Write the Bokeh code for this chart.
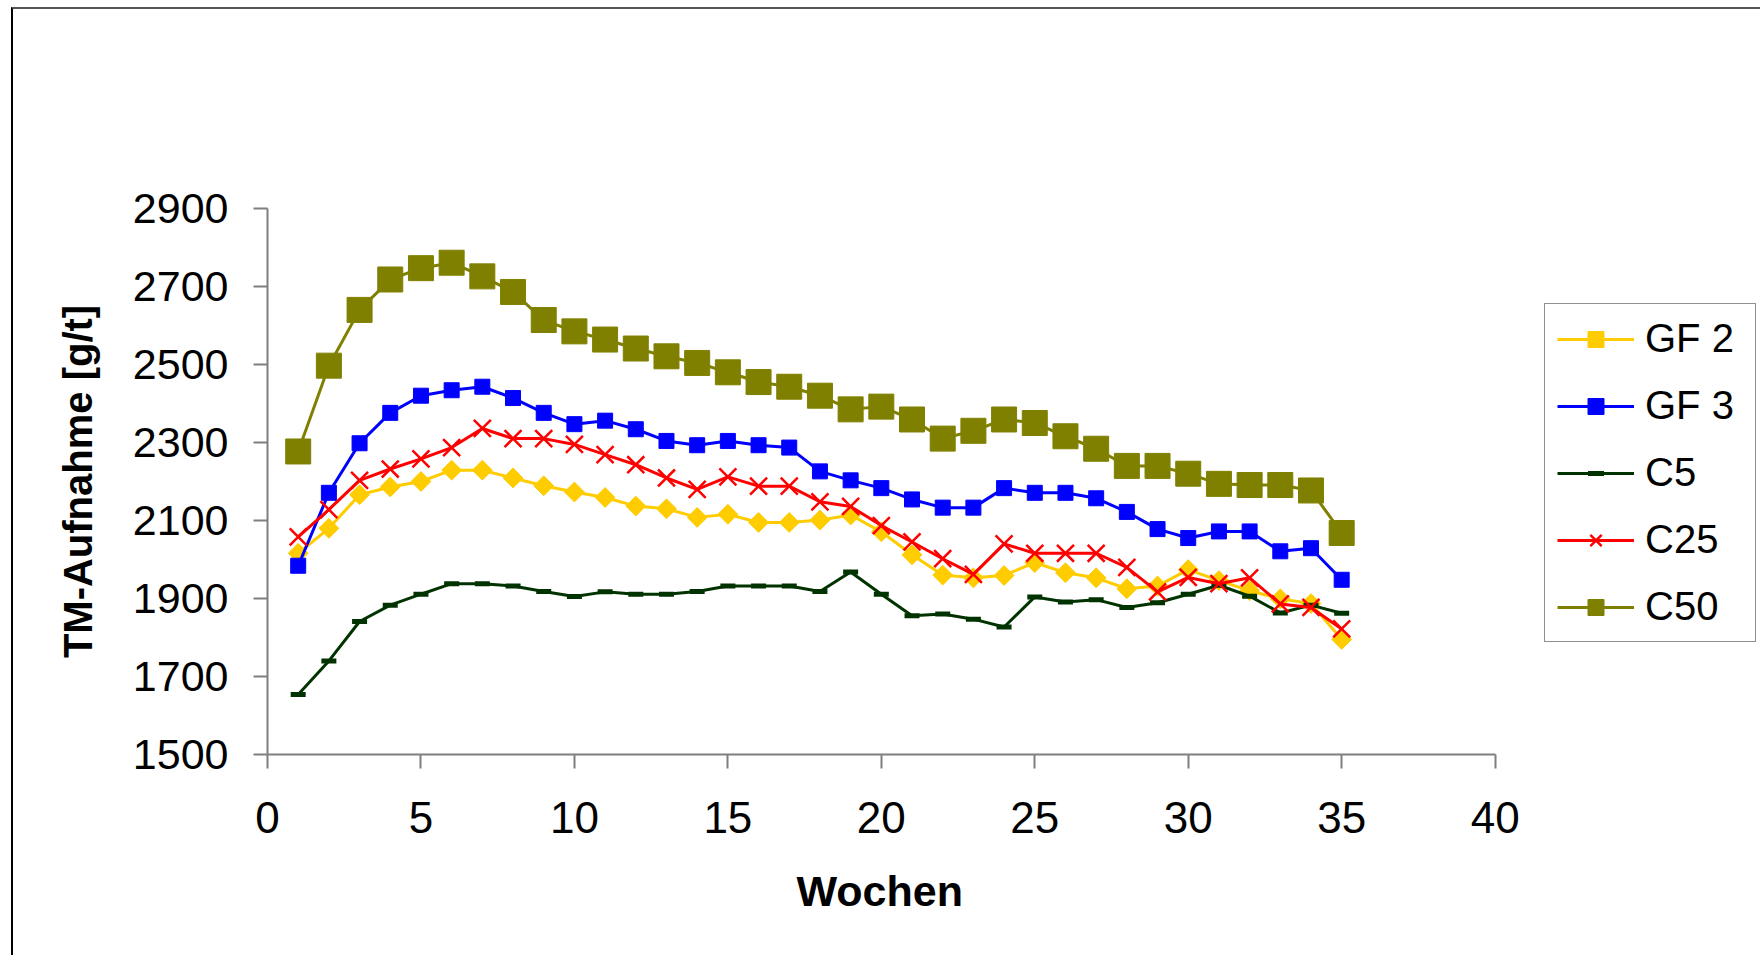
import math
from bokeh.plotting import figure
from bokeh.models import Legend, LegendItem, FixedTicker, Range1d, Title
from bokeh.embed import file_html
from bokeh.resources import INLINE

weeks = list(range(1, 36))
gf2 = [2016, 2080, 2166, 2186, 2200, 2229, 2229, 2209, 2189, 2173, 2159, 2137, 2130, 2108, 2116,
       2095, 2095, 2101, 2114, 2071, 2012, 1960, 1953, 1959, 1992, 1966, 1953, 1925, 1932, 1974,
       1946, 1920, 1899, 1887, 1795]
gf3 = [1984, 2171, 2298, 2376, 2420, 2434, 2443, 2414, 2376, 2347, 2356, 2334, 2304, 2293, 2304,
       2293, 2287, 2226, 2203, 2183, 2154, 2133, 2133, 2183, 2171, 2171, 2157, 2122, 2078, 2055,
       2072, 2072, 2021, 2029, 1948]
c5 = [1654, 1740, 1841, 1883, 1911, 1938, 1938, 1932, 1918, 1905, 1917, 1911, 1911, 1918, 1932,
      1932, 1932, 1918, 1968, 1911, 1856, 1860, 1847, 1827, 1904, 1891, 1897, 1877, 1889, 1911,
      1934, 1906, 1863, 1883, 1862]
c25 = [2058, 2128, 2203, 2232, 2258, 2287, 2336, 2310, 2310, 2295, 2269, 2243, 2209, 2180, 2212,
       2188, 2188, 2148, 2136, 2087, 2045, 2002, 1962, 2040, 2016, 2016, 2016, 1980, 1917, 1954,
       1938, 1953, 1886, 1877, 1822]
c50 = [2277, 2497, 2640, 2718, 2747, 2761, 2726, 2686, 2614, 2585, 2564, 2541, 2521, 2504, 2480,
       2455, 2443, 2420, 2385, 2392, 2359, 2310, 2330, 2359, 2350, 2316, 2284, 2240, 2240, 2220,
       2194, 2191, 2191, 2177, 2068]
y_ticks = [1500, 1700, 1900, 2100, 2300, 2500, 2700, 2900]
x_ticks = [0, 5, 10, 15, 20, 25, 30, 35, 40]
x_title = "Wochen"
y_title = "TM-Aufnahme [g/t]"

FONT = "Liberation Sans, Arial, sans-serif"

# page offset of the outer chart border (left, top)
OX, OY = 11, 7
BW = 2
FIG_W = 1760 - OX - BW          # 1747
FIG_H = 957 - OY - BW - 2       # 946
LEFT = 267 - OX - BW            # frame left in figure coords
TOP = 208 - OY - BW
BOTTOM = FIG_H - (752 - OY - BW)
AXIS_PX = 1493 - 267            # pixel length of the 0..40 x axis
frame_w = FIG_W - LEFT
x_end = x_ticks[-1] * frame_w / AXIS_PX

p = figure(width=FIG_W, height=FIG_H, output_backend="svg", toolbar_location=None,
           x_range=Range1d(0, x_end), y_range=Range1d(y_ticks[0], y_ticks[-1]),
           min_border_left=LEFT, min_border_right=0,
           min_border_top=TOP, min_border_bottom=BOTTOM)
p.styles = {"margin-left": f"{OX}px", "margin-top": f"{OY}px",
            "border-left": f"{BW}px solid #000000", "border-top": f"{BW}px solid #555555",
            "box-sizing": "content-box"}
p.outline_line_color = None
p.xgrid.visible = False
p.ygrid.visible = False
p.background_fill_color = "white"
p.border_fill_color = "white"

for ax in (p.xaxis[0], p.yaxis[0]):
    ax.axis_line_color = "#7f7f7f"
    ax.axis_line_width = 2
    ax.major_tick_line_color = "#7f7f7f"
    ax.major_tick_line_width = 2
    ax.major_tick_in = 0
    ax.major_tick_out = 14
    ax.minor_tick_line_color = None
    ax.major_label_text_font = FONT
    ax.major_label_text_color = "black"
    ax.axis_label_text_font = FONT
    ax.axis_label_text_font_style = "bold"
    ax.axis_label_text_color = "black"

p.xaxis.bounds = (x_ticks[0], x_ticks[-1])
p.xaxis.ticker = FixedTicker(ticks=x_ticks)
p.yaxis.ticker = FixedTicker(ticks=y_ticks)
p.xaxis.major_label_text_font_size = "44px"
p.yaxis.major_label_text_font_size = "43px"
p.xaxis.major_label_standoff = 33
p.yaxis.major_label_standoff = 25
p.yaxis.axis_label = y_title
p.yaxis.axis_label_text_font_size = "40px"
p.yaxis.axis_label_standoff = 30

# x-axis title centred under the 0..40 axis (the frame extends further right for the legend)
xt = Title(text=x_title, align="left", offset=796 - 267, standoff=58,
           text_font=FONT, text_font_size="43px", text_font_style="bold", text_color="black")
p.add_layout(xt, "below")

series = [
    ("GF 2", gf2, "#FFCC00", "square", 14, math.pi / 4, 1),
    ("GF 3", gf3, "#0000FF", "square", 15, 0, 1),
    ("C5", c5, "#003300", "dash", 15, 0, 5),
    ("C25", c25, "#FF0000", "x", 24, 0, 2.5),
    ("C50", c50, "#808000", "square", 25, 0, 1),
]

items = []
for name, vals, col, marker, size, ang, lw in series:
    r1 = p.line(weeks, vals, line_color=col, line_width=3)
    r2 = p.scatter(weeks, vals, marker=marker, size=size, angle=ang,
                   fill_color=col, line_color=col, line_width=lw)
    items.append(LegendItem(label=name, renderers=[r1, r2]))

legend = Legend(items=items, location=(1544 - 267, 752 - 640))
legend.label_text_font = FONT
legend.label_text_font_size = "40px"
legend.label_text_color = "black"
legend.glyph_width = 77
legend.glyph_height = 40
legend.label_height = 40
legend.label_width = 98
legend.label_standoff = 11
legend.spacing = 22
legend.padding = 12
legend.margin = 0
legend.border_line_color = "#222222"
legend.border_line_width = 1.5
legend.background_fill_color = "white"
legend.background_fill_alpha = 1
p.add_layout(legend, "center")

open("out.html", "w").write(file_html(p, INLINE))
